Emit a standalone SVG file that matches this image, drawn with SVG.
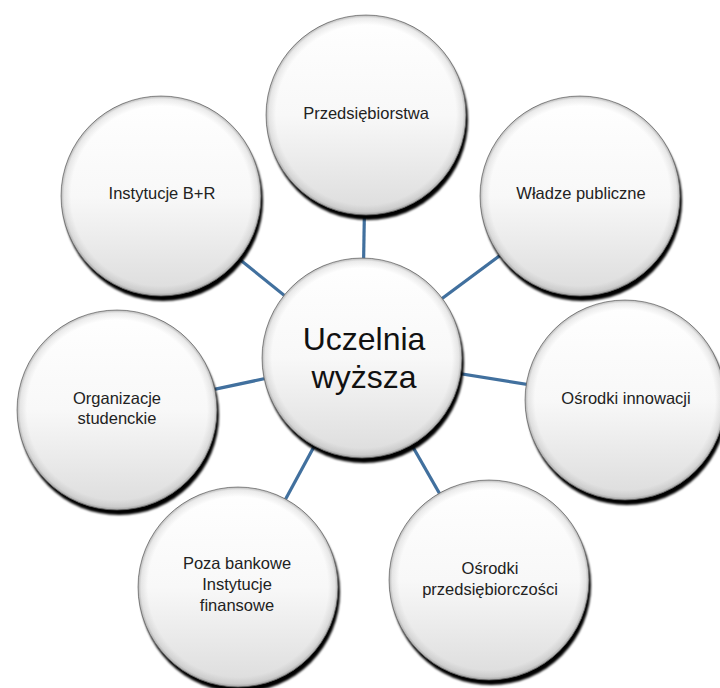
<svg xmlns="http://www.w3.org/2000/svg" width="720" height="688" viewBox="0 0 720 688">
<style>
.bg{fill:#ffffff}
.conn{stroke:#41709e;stroke-width:3.2;fill:none}
.shadow{fill:#000000;filter:url(#blur)}
.face{fill:url(#lin);stroke:#6a6a6a;stroke-width:0.7}
.rim{fill:url(#rad)}
.lbl{font-family:"Liberation Sans",Arial,sans-serif;font-size:16.5px;fill:#222222;text-anchor:middle}
.big{font-family:"Liberation Sans",Arial,sans-serif;font-size:32px;fill:#111111;text-anchor:middle}
</style>
<defs>
<filter id="blur" x="-10%" y="-10%" width="120%" height="120%"><feGaussianBlur stdDeviation="0.8"/></filter>
<linearGradient id="lin" x1="0" y1="0" x2="0" y2="1">
<stop offset="0" stop-color="#ffffff"/>
<stop offset="0.5" stop-color="#f8f8f8"/>
<stop offset="1" stop-color="#dcdcdc"/>
</linearGradient>
<radialGradient id="rad" cx="0.5" cy="0.5" r="0.5">
<stop offset="0.9" stop-color="#000000" stop-opacity="0"/>
<stop offset="0.97" stop-color="#000000" stop-opacity="0.08"/>
<stop offset="1" stop-color="#000000" stop-opacity="0.28"/>
</radialGradient>
</defs>
<rect class="bg" x="0" y="0" width="720" height="688"/>
<g id="connectors">
<line class="conn" x1="362" y1="358" x2="366" y2="115"/>
<line class="conn" x1="362" y1="358" x2="580" y2="196"/>
<line class="conn" x1="362" y1="358" x2="625" y2="400"/>
<line class="conn" x1="362" y1="358" x2="489" y2="580"/>
<line class="conn" x1="362" y1="358" x2="238" y2="587"/>
<line class="conn" x1="362" y1="358" x2="117" y2="410"/>
<line class="conn" x1="362" y1="358" x2="161" y2="196"/>
</g>
<g id="node-przedsiebiorstwa">
<circle class="shadow" cx="368" cy="120" r="100"/>
<circle class="face" cx="366" cy="115" r="100"/>
<circle class="rim" cx="366" cy="115" r="100"/>
<text class="lbl" x="366" y="119">Przedsiębiorstwa</text>
</g>
<g id="node-wladze">
<circle class="shadow" cx="582" cy="201" r="100"/>
<circle class="face" cx="580" cy="196" r="100"/>
<circle class="rim" cx="580" cy="196" r="100"/>
<text class="lbl" x="581" y="199">Władze publiczne</text>
</g>
<g id="node-innowacji">
<circle class="shadow" cx="627" cy="405" r="100"/>
<circle class="face" cx="625" cy="400" r="100"/>
<circle class="rim" cx="625" cy="400" r="100"/>
<text class="lbl" x="626" y="404">Ośrodki innowacji</text>
</g>
<g id="node-przedsiebiorczosci">
<circle class="shadow" cx="491" cy="585" r="100"/>
<circle class="face" cx="489" cy="580" r="100"/>
<circle class="rim" cx="489" cy="580" r="100"/>
<text class="lbl" x="490" y="574">Ośrodki</text>
<text class="lbl" x="490" y="595">przedsiębiorczości</text>
</g>
<g id="node-poza-bankowe">
<circle class="shadow" cx="240" cy="592" r="100"/>
<circle class="face" cx="238" cy="587" r="100"/>
<circle class="rim" cx="238" cy="587" r="100"/>
<text class="lbl" x="237" y="569">Poza bankowe</text>
<text class="lbl" x="237" y="590">Instytucje</text>
<text class="lbl" x="237" y="611">finansowe</text>
</g>
<g id="node-organizacje">
<circle class="shadow" cx="119" cy="415" r="100"/>
<circle class="face" cx="117" cy="410" r="100"/>
<circle class="rim" cx="117" cy="410" r="100"/>
<text class="lbl" x="117" y="404">Organizacje</text>
<text class="lbl" x="117" y="424">studenckie</text>
</g>
<g id="node-instytucje-br">
<circle class="shadow" cx="163" cy="201" r="100"/>
<circle class="face" cx="161" cy="196" r="100"/>
<circle class="rim" cx="161" cy="196" r="100"/>
<text class="lbl" x="162" y="199">Instytucje B+R</text>
</g>
<g id="node-uczelnia">
<circle class="shadow" cx="364" cy="363" r="100"/>
<circle class="face" cx="362" cy="358" r="100"/>
<circle class="rim" cx="362" cy="358" r="100"/>
<text class="big" x="364" y="350">Uczelnia</text>
<text class="big" x="364" y="388">wyższa</text>
</g>
</svg>
